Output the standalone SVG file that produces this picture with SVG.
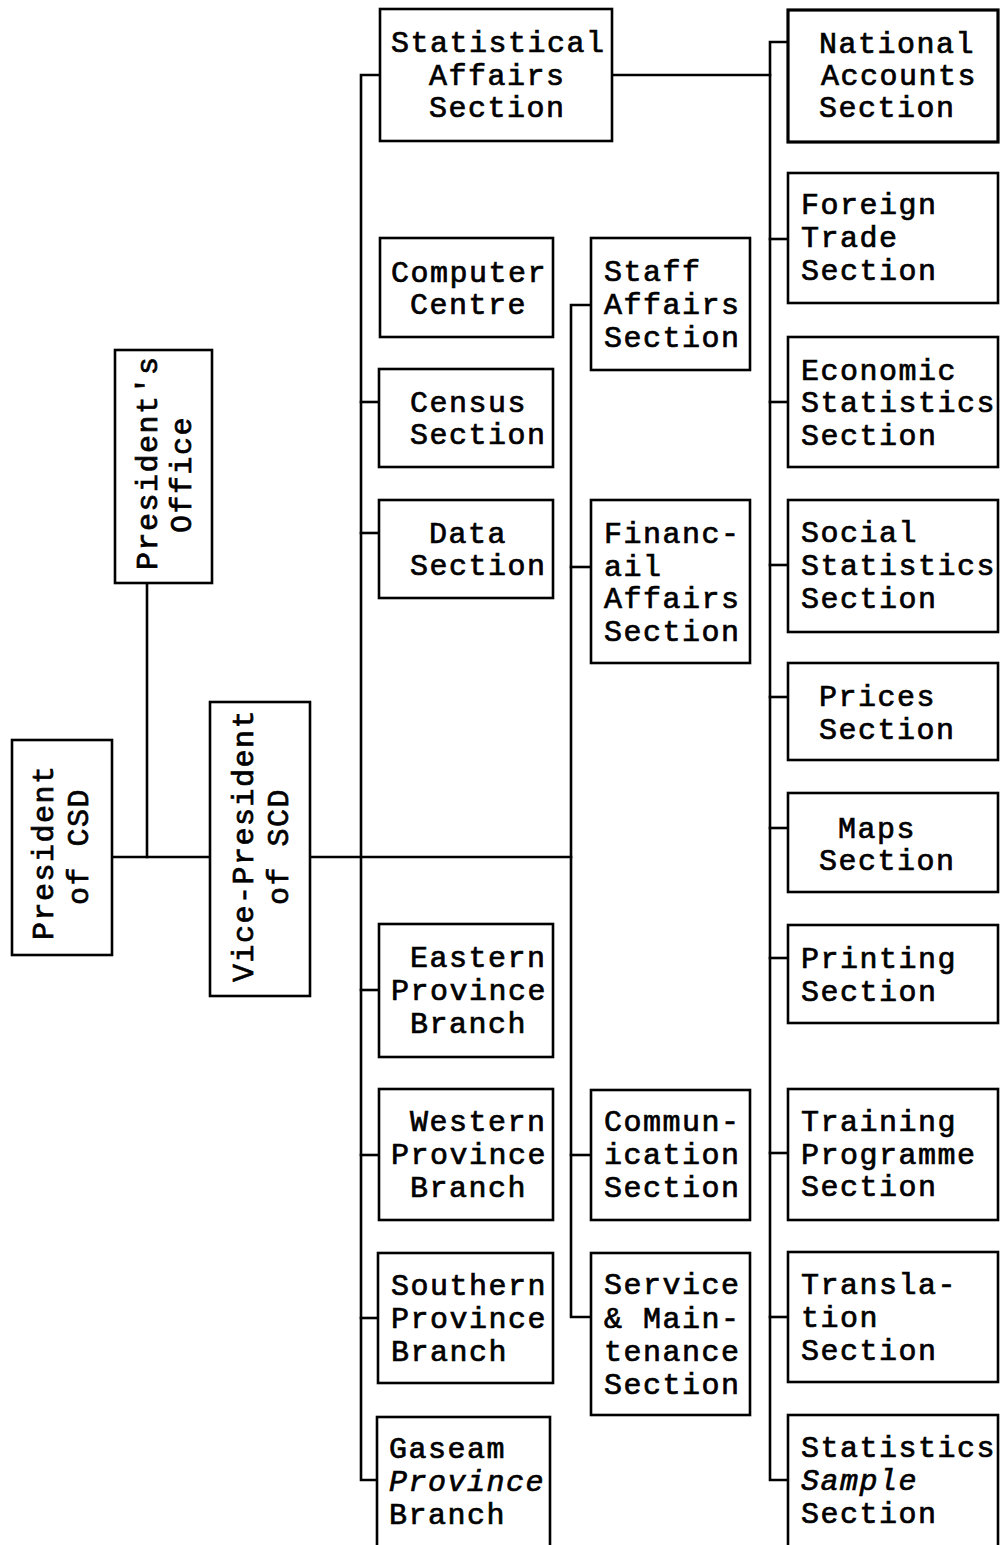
<svg xmlns="http://www.w3.org/2000/svg" width="1000" height="1545" viewBox="0 0 1000 1545">
  <style>
    .box { fill: #fff; stroke: #000; stroke-width: 2.6; }
    .ln { fill: none; stroke: #000; stroke-width: 2.6; stroke-linejoin: miter; stroke-linecap: square; }
    text { font-family: "Liberation Mono", "DejaVu Sans Mono", monospace; font-size: 30px; letter-spacing: 1.5px; font-weight: normal; fill: #000; stroke: #000; stroke-width: 0.7; }
    .it { font-style: italic; }
  </style>
  <rect width="1000" height="1545" fill="#fff"/>

  <!-- connectors -->
  <g id="connectors">
    <!-- President of CSD to Vice-President, with branch up to President's Office -->
    <path class="ln" d="M112 857 H210"/>
    <path class="ln" d="M147 583 V857"/>
    <path class="ln" d="M310 857 H571"/>
    <!-- left spine -->
    <path class="ln" d="M380 75 H361 V1480 H377"/>
    <path class="ln" d="M361 402 H379"/>
    <path class="ln" d="M361 533 H379"/>
    <path class="ln" d="M361 990 H379"/>
    <path class="ln" d="M361 1155 H379"/>
    <path class="ln" d="M361 1318 H378"/>
    <!-- middle spine -->
    <path class="ln" d="M591 305 H571 V1317 H591"/>
    <path class="ln" d="M571 567 H591"/>
    <path class="ln" d="M571 1155 H591"/>
    <!-- Statistical Affairs to right spine -->
    <path class="ln" d="M612 75 H770"/>
    <path class="ln" d="M788 42 H770 V1480 H788"/>
    <path class="ln" d="M770 239 H788"/>
    <path class="ln" d="M770 402 H788"/>
    <path class="ln" d="M770 565 H788"/>
    <path class="ln" d="M770 697 H788"/>
    <path class="ln" d="M770 828 H788"/>
    <path class="ln" d="M770 958 H788"/>
    <path class="ln" d="M770 1153 H788"/>
    <path class="ln" d="M770 1317 H788"/>
  </g>

  <!-- top level -->
  <g id="president-csd">
    <rect class="box" x="12" y="740" width="100" height="215"/>
    <text transform="translate(53,940) rotate(-90)">President</text>
    <text transform="translate(88,905) rotate(-90)">of CSD</text>
  </g>
  <g id="presidents-office">
    <rect class="box" x="115" y="350" width="97" height="233"/>
    <text transform="translate(157,570) rotate(-90)">President's</text>
    <text transform="translate(191,533) rotate(-90)">Office</text>
  </g>
  <g id="vice-president">
    <rect class="box" x="210" y="702" width="100" height="294"/>
    <text transform="translate(253,982) rotate(-90)">Vice-President</text>
    <text transform="translate(288,905) rotate(-90)">of SCD</text>
  </g>

  <!-- left column -->
  <g id="statistical-affairs">
    <rect class="box" x="380" y="9" width="232" height="132"/>
    <text x="391" y="52">Statistical</text>
    <text x="429" y="85">Affairs</text>
    <text x="429" y="117">Section</text>
  </g>
  <g id="computer-centre">
    <rect class="box" x="380" y="238" width="173" height="99"/>
    <text x="391" y="282">Computer</text>
    <text x="410" y="314">Centre</text>
  </g>
  <g id="census">
    <rect class="box" x="379" y="369" width="174" height="98"/>
    <text x="410" y="412">Census</text>
    <text x="410" y="444">Section</text>
  </g>
  <g id="data">
    <rect class="box" x="379" y="500" width="174" height="98"/>
    <text x="429" y="543">Data</text>
    <text x="410" y="575">Section</text>
  </g>
  <g id="eastern">
    <rect class="box" x="379" y="924" width="174" height="133"/>
    <text x="410" y="967">Eastern</text>
    <text x="391" y="1000">Province</text>
    <text x="410" y="1033">Branch</text>
  </g>
  <g id="western">
    <rect class="box" x="379" y="1089" width="174" height="131"/>
    <text x="410" y="1131">Western</text>
    <text x="391" y="1164">Province</text>
    <text x="410" y="1197">Branch</text>
  </g>
  <g id="southern">
    <rect class="box" x="378" y="1253" width="175" height="130"/>
    <text x="391" y="1295">Southern</text>
    <text x="391" y="1328">Province</text>
    <text x="391" y="1361">Branch</text>
  </g>
  <g id="gaseam">
    <rect class="box" x="377" y="1417" width="173" height="140"/>
    <text x="389" y="1458">Gaseam</text>
    <text x="389" y="1491" class="it">Province</text>
    <text x="389" y="1524">Branch</text>
  </g>

  <!-- middle column -->
  <g id="staff-affairs">
    <rect class="box" x="591" y="238" width="159" height="132"/>
    <text x="604" y="281">Staff</text>
    <text x="604" y="314">Affairs</text>
    <text x="604" y="347">Section</text>
  </g>
  <g id="financial-affairs">
    <rect class="box" x="591" y="500" width="159" height="163"/>
    <text x="604" y="543">Financ-</text>
    <text x="604" y="576">ail</text>
    <text x="604" y="608">Affairs</text>
    <text x="604" y="641">Section</text>
  </g>
  <g id="communication">
    <rect class="box" x="591" y="1090" width="159" height="130"/>
    <text x="604" y="1131">Commun-</text>
    <text x="604" y="1164">ication</text>
    <text x="604" y="1197">Section</text>
  </g>
  <g id="service-maintenance">
    <rect class="box" x="591" y="1253" width="159" height="162"/>
    <text x="604" y="1294">Service</text>
    <text x="604" y="1328">&amp; Main-</text>
    <text x="604" y="1361">tenance</text>
    <text x="604" y="1394">Section</text>
  </g>

  <!-- right column -->
  <g id="national-accounts">
    <rect class="box" x="788" y="10" width="210" height="132" style="stroke-width:3.2"/>
    <text x="819" y="53">National</text>
    <text x="821" y="85">Accounts</text>
    <text x="819" y="117">Section</text>
  </g>
  <g id="foreign-trade">
    <rect class="box" x="788" y="173" width="210" height="130"/>
    <text x="801" y="214">Foreign</text>
    <text x="801" y="247">Trade</text>
    <text x="801" y="280">Section</text>
  </g>
  <g id="economic-statistics">
    <rect class="box" x="788" y="337" width="210" height="130"/>
    <text x="801" y="380">Economic</text>
    <text x="801" y="412">Statistics</text>
    <text x="801" y="445">Section</text>
  </g>
  <g id="social-statistics">
    <rect class="box" x="788" y="500" width="210" height="132"/>
    <text x="801" y="542">Social</text>
    <text x="801" y="575">Statistics</text>
    <text x="801" y="608">Section</text>
  </g>
  <g id="prices">
    <rect class="box" x="788" y="663" width="210" height="97"/>
    <text x="819" y="706">Prices</text>
    <text x="819" y="739">Section</text>
  </g>
  <g id="maps">
    <rect class="box" x="788" y="793" width="210" height="99"/>
    <text x="838" y="838">Maps</text>
    <text x="819" y="870">Section</text>
  </g>
  <g id="printing">
    <rect class="box" x="788" y="925" width="210" height="98"/>
    <text x="801" y="968">Printing</text>
    <text x="801" y="1001">Section</text>
  </g>
  <g id="training-programme">
    <rect class="box" x="788" y="1089" width="210" height="131"/>
    <text x="801" y="1131">Training</text>
    <text x="801" y="1164">Programme</text>
    <text x="801" y="1196">Section</text>
  </g>
  <g id="translation">
    <rect class="box" x="788" y="1252" width="210" height="130"/>
    <text x="801" y="1294">Transla-</text>
    <text x="801" y="1327">tion</text>
    <text x="801" y="1360">Section</text>
  </g>
  <g id="statistics-sample">
    <rect class="box" x="788" y="1415" width="210" height="142"/>
    <text x="801" y="1457">Statistics</text>
    <text x="801" y="1490" class="it">Sample</text>
    <text x="801" y="1523">Section</text>
  </g>
</svg>
